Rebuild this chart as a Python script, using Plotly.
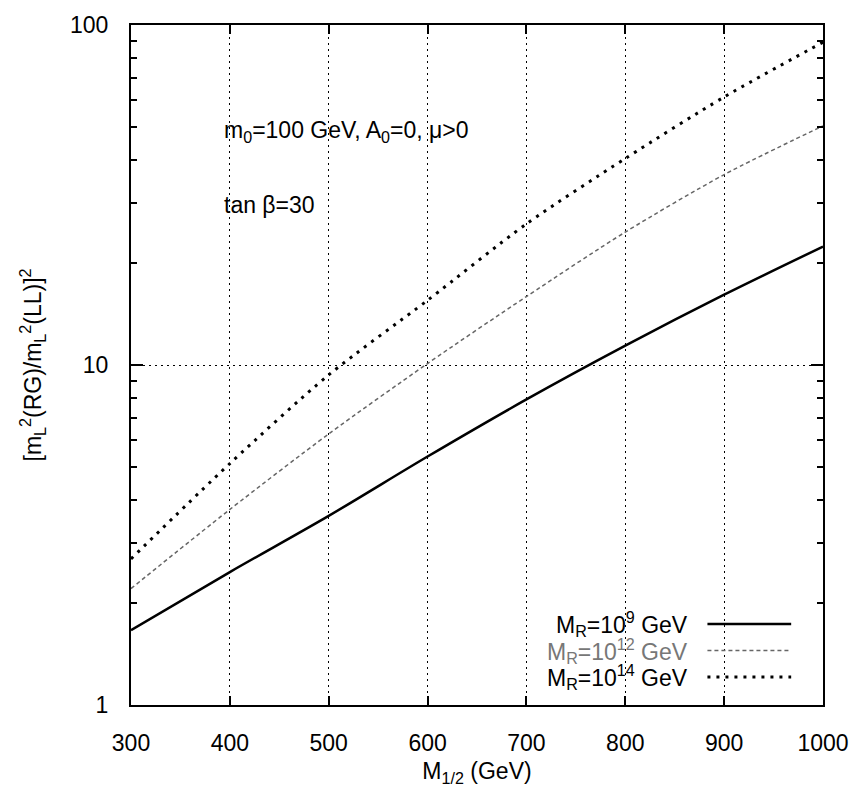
import plotly.graph_objects as go

# Gaugino mass M_1/2 (GeV)
m_half = [300, 400, 500, 600, 700, 800, 900, 1000]

# Ratio [m_L^2(RG)/m_L^2(LL)]^2 for three right-handed neutrino scales
ratio_mr9 = [1.66, 2.46, 3.60, 5.38, 7.92, 11.4, 16.1, 22.3]
ratio_mr12 = [2.20, 3.76, 6.27, 10.1, 15.9, 24.6, 36.3, 50.5]
ratio_mr14 = [2.69, 5.13, 9.35, 15.5, 26.0, 40.5, 61.4, 89.0]

x_ticks = [300, 400, 500, 600, 700, 800, 900, 1000]
y_ticks = [1, 10, 100]
y_minor = [k * 10 ** p for p in (0, 1) for k in range(2, 10)]

FONT = "Liberation Sans, Arial, Helvetica, sans-serif"
FS = 23

series = [
    ("M<sub>R</sub>=10<sup>9</sup> GeV", ratio_mr9, dict(color="black", width=2.5, dash="solid"), "black"),
    ("M<sub>R</sub>=10<sup>12</sup> GeV", ratio_mr12, dict(color="#666666", width=1.5, dash="4px,3px"), "#777777"),
    ("M<sub>R</sub>=10<sup>14</sup> GeV", ratio_mr14, dict(color="black", width=3, dash="3px,6px"), "black"),
]

fig = go.Figure()
for name, vals, line, _ in series:
    fig.add_trace(go.Scatter(x=m_half, y=vals, mode="lines", name=name,
                             line=dict(line, shape="spline", smoothing=0.8),
                             showlegend=False))

# Key in the lower right corner: right-aligned labels with line samples after them
row_y = [0.119, 0.080, 0.041]
for (name, _, line, tcolor), ry in zip(series, row_y):
    fig.add_annotation(xref="paper", yref="paper", x=0.8075, y=ry, xanchor="right",
                       yanchor="middle", text=name, showarrow=False,
                       font=dict(family=FONT, size=FS, color=tcolor))
    fig.add_shape(type="line", xref="paper", yref="paper", x0=0.833, x1=0.954,
                  y0=ry, y1=ry, line=line)

fig.add_annotation(xref="paper", yref="paper", x=0.131, y=0.843, xanchor="left",
                   yanchor="middle", showarrow=False,
                   text="m<sub>0</sub>=100 GeV, A<sub>0</sub>=0, μ>0",
                   font=dict(family=FONT, size=FS, color="black"))
fig.add_annotation(xref="paper", yref="paper", x=0.131, y=0.735, xanchor="left",
                   yanchor="middle", showarrow=False, text="tan β=30",
                   font=dict(family=FONT, size=FS, color="black"))

fig.update_layout(
    width=861, height=792,
    margin=dict(l=131, r=31, t=15, b=87),
    paper_bgcolor="white", plot_bgcolor="white",
    font=dict(family=FONT, size=FS, color="black"),
    xaxis=dict(
        range=[300, 1000], tickvals=x_ticks, ticktext=[str(v) for v in x_ticks],
        ticks="inside", ticklen=9, tickwidth=1.5, tickcolor="black",
        ticklabelstandoff=16,
        showline=True, linecolor="black", linewidth=2, mirror="allticks",
        showgrid=True, gridcolor="black", gridwidth=1, griddash="2px,4px",
        zeroline=False,
        title=dict(text="M<sub>1/2</sub> (GeV)", font=dict(size=FS), standoff=8),
    ),
    yaxis=dict(
        type="log", range=[0, 2], tickvals=y_ticks, ticktext=["1", "10", "100"],
        ticks="inside", ticklen=12, tickwidth=1.5, tickcolor="black",
        ticklabelstandoff=16,
        showline=True, linecolor="black", linewidth=2, mirror="allticks",
        showgrid=True, gridcolor="black", gridwidth=1, griddash="2px,4px",
        zeroline=False,
        minor=dict(tickvals=y_minor, ticks="inside", ticklen=6, tickwidth=1.5,
                   tickcolor="black", showgrid=False),
        title=dict(text="[m<sub>L</sub><sup>2</sup>(RG)/m<sub>L</sub><sup>2</sup>(LL)]<sup>2</sup>",
                   font=dict(size=FS), standoff=22),
    ),
)

fig.write_html("out.html")
